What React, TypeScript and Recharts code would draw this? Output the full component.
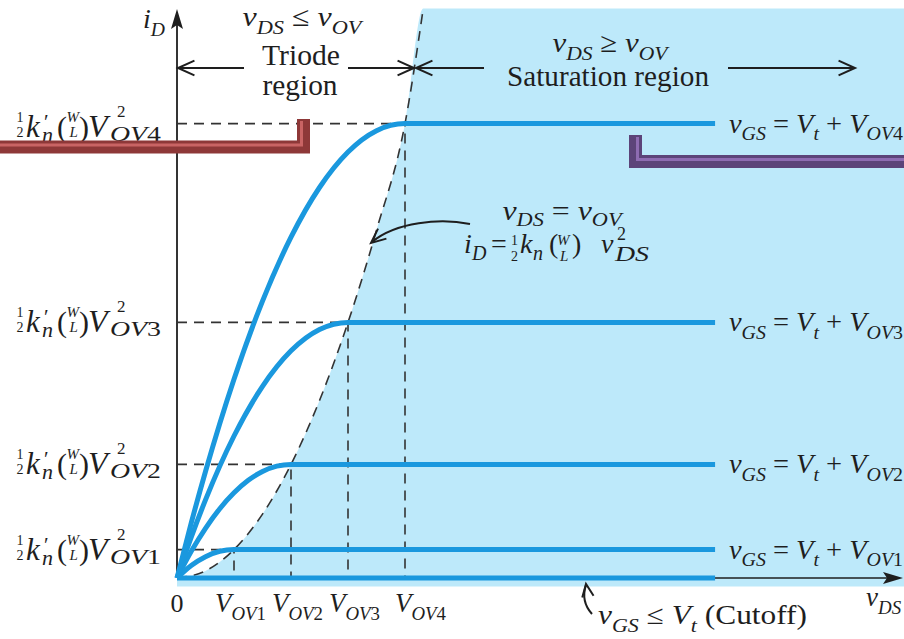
import React from 'react';
import { ComposedChart, Line, Area, XAxis, YAxis } from 'recharts';

const W = 904;
const H = 639;
// where the origin sits and how many px one unit takes
const X0 = 177;
const Y0 = 578;
const SX = 57;
const SY = 28.4;

const px = (x: number) => X0 + x * SX;
const py = (y: number) => Y0 - y * SY;

// overdrive voltages (units of V_OV1) and saturation currents
const vov = [1, 2, 3, 4];
const iSat = [1, 4, 9, 16];
const ovNames = ['1', '2', '3', '4'];
const vdsEnd = 9.44;
const axisXEnd = 12.6;
const axisYEnd = 19.9;

// curves: [vDS, iD]
const curveOV1 = [[0, 0], [0.25, 0.44], [0.5, 0.75], [0.75, 0.94], [1, 1], [vdsEnd, 1]];
const curveOV2 = [[0, 0], [0.25, 0.94], [0.5, 1.75], [0.75, 2.44], [1, 3], [1.25, 3.44], [1.5, 3.75], [1.75, 3.94], [2, 4], [vdsEnd, 4]];
const curveOV3 = [[0, 0], [0.25, 1.44], [0.5, 2.75], [1, 5], [1.5, 6.75], [2, 8], [2.5, 8.75], [3, 9], [vdsEnd, 9]];
const curveOV4 = [[0, 0], [0.25, 1.94], [0.5, 3.75], [1, 7], [1.5, 9.75], [2, 12], [2.5, 13.75], [3, 15], [3.5, 15.75], [4, 16], [vdsEnd, 16]];
const cutoff = [[0, 0], [vdsEnd, 0]];
// vDS = vOV boundary
const boundary = [[0, 0], [0.5, 0.25], [1, 1], [1.5, 2.25], [2, 4], [2.5, 6.25], [3, 9], [3.5, 12.25], [4, 16], [4.32, 20.05]];
const satFill = [...boundary, [12.8, 20.05]];

const pts = (a: number[][]) => a.map(([x, y]) => ({ x, y }));
const guides = vov.map((a, i) => [{ x: 0, y: iSat[i] }, { x: a, y: iSat[i] }, { x: a, y: 0 }]);
const curves = [curveOV1, curveOV2, curveOV3, curveOV4];

const FONT = '"Liberation Serif", "Times New Roman", "DejaVu Serif", serif';
const INK = '#1e1e1e';
const BLUE = '#1a98de';
const SHADE = '#bde9fa';

type Seg = [string, string?];

const T = ({ x, y, size, it, anchor, len, children }: { x: number; y: number; size: number; it?: boolean; anchor?: string; len?: number; children: React.ReactNode }) => (
  <text
    x={x}
    y={y}
    fontSize={size}
    fill={INK}
    textAnchor={(anchor || 'start') as any}
    textLength={len}
    lengthAdjust={len ? 'spacingAndGlyphs' : undefined}
    style={{ fontFamily: FONT, fontStyle: it ? 'italic' : 'normal' }}
  >
    {children}
  </text>
);

const MathText = ({ x, y, segs, size = 27, anchor = 'start', len, subDrop = 0.28 }: { x: number; y: number; segs: Seg[]; size?: number; anchor?: string; len?: number; subDrop?: number }) => {
  let cur = 0;
  return (
    <text
      x={x}
      y={y}
      fontSize={size}
      fill={INK}
      textAnchor={anchor as any}
      textLength={len}
      lengthAdjust={len ? 'spacingAndGlyphs' : undefined}
      style={{ fontFamily: FONT, whiteSpace: 'pre' }}
    >
      {segs.map(([t, f = ''], i) => {
        const target = f.includes('b') ? size * subDrop : f.includes('p') ? -size * 0.4 : 0;
        const dy = target - cur;
        cur = target;
        const small = f.includes('b') || f.includes('p');
        return (
          <tspan key={i} dy={dy} fontSize={small ? size * 0.7 : size} style={{ fontStyle: f.includes('i') ? 'italic' : 'normal' }}>
            {t}
          </tspan>
        );
      })}
    </text>
  );
};

const Head = ({ x, y, ang, len = 18, spread = 0.42 }: { x: number; y: number; ang: number; len?: number; spread?: number }) => {
  const a1 = ang + Math.PI - spread;
  const a2 = ang + Math.PI + spread;
  return (
    <path
      d={`M${x + len * Math.cos(a1)},${y + len * Math.sin(a1)} L${x},${y} L${x + len * Math.cos(a2)},${y + len * Math.sin(a2)}`}
      fill="none"
      stroke={INK}
      strokeWidth={2}
    />
  );
};

const it = { fontStyle: 'italic' };
const up = { fontStyle: 'normal' };

// ½ k'n (W/L) V²OVn as one text element
const LeftLabel = ({ y, n }: { y: number; n: string }) => (
  <text fill={INK} style={{ fontFamily: FONT }}>
    <tspan x={16.5} y={y - 5} fontSize={14} style={up}>1</tspan>
    <tspan x={16.5} y={y + 10} fontSize={14} style={up}>2</tspan>
    <tspan x={26} y={y + 10} fontSize={31} style={it}>k</tspan>
    <tspan x={44} y={y + 2} fontSize={21} style={up}>′</tspan>
    <tspan x={42} y={y + 15} fontSize={22} style={it}>n</tspan>
    <tspan x={57} y={y + 10} fontSize={30} style={up}>(</tspan>
    <tspan x={66.5} y={y - 5} fontSize={15} style={it}>W</tspan>
    <tspan x={69.5} y={y + 10} fontSize={15} style={it}>L</tspan>
    <tspan x={79} y={y + 10} fontSize={30} style={up}>)</tspan>
    <tspan x={88} y={y + 10} fontSize={32} style={it}>V</tspan>
    <tspan x={117} y={y - 10} fontSize={17} style={up}>2</tspan>
    <tspan x={110} y={y + 14} fontSize={22} textLength={51} lengthAdjust="spacingAndGlyphs">
      <tspan style={it}>OV</tspan>
      <tspan style={up}>{n}</tspan>
    </tspan>
  </text>
);

// iD = ½ kn (W/L) v²DS
const BoundaryFormula = () => (
  <text fill={INK} style={{ fontFamily: FONT }}>
    <tspan x={464} y={253} fontSize={28} style={it}>i</tspan>
    <tspan x={472} y={260} fontSize={20} style={it}>D</tspan>
    <tspan x={491} y={253} fontSize={28} style={up}>=</tspan>
    <tspan x={511} y={245} fontSize={14} style={up}>1</tspan>
    <tspan x={511} y={261} fontSize={14} style={up}>2</tspan>
    <tspan x={520} y={253} fontSize={28} style={it}>k</tspan>
    <tspan x={533} y={260} fontSize={20} style={it}>n</tspan>
    <tspan x={549} y={253} fontSize={28} style={up}>(</tspan>
    <tspan x={557} y={245} fontSize={15} style={it}>W</tspan>
    <tspan x={560} y={261} fontSize={15} style={it}>L</tspan>
    <tspan x={572} y={253} fontSize={28} style={up}>)</tspan>
    <tspan x={601} y={253} fontSize={28} style={it}>v</tspan>
    <tspan x={617} y={240} fontSize={18} style={up}>2</tspan>
    <tspan x={615} y={261} fontSize={21} textLength={34} lengthAdjust="spacingAndGlyphs" style={it}>DS</tspan>
  </text>
);

const Overlay = () => (
  <svg width={W} height={H} style={{ position: 'absolute', left: 0, top: 0, pointerEvents: 'none' }}>
    {/* axis arrow heads */}
    <path d={`M${px(0)},9 L${px(0) + 6},29 L${px(0)},25 L${px(0) - 6},29 Z`} fill={INK} />
    <path d={`M903,${py(0)} L883,${py(0) - 6} L887,${py(0)} L883,${py(0) + 6} Z`} fill={INK} />

    {/* region arrows */}
    <g stroke={INK} strokeWidth={2}>
      <line x1={178} y1={68} x2={244} y2={68} />
      <line x1={348} y1={68} x2={414} y2={68} />
      <line x1={416} y1={68} x2={484} y2={68} />
      <line x1={728} y1={68} x2={855} y2={68} />
    </g>
    <Head x={178} y={68} ang={Math.PI} />
    <Head x={414} y={68} ang={0} />
    <Head x={416} y={68} ang={Math.PI} />
    <Head x={855} y={68} ang={0} />

    <MathText x={302} y={26} anchor="middle" size={28} len={119} segs={[['v', 'i'], ['DS', 'ib'], [' ≤ '], ['v', 'i'], ['OV', 'ib']]} />
    <T x={301} y={65} size={29} anchor="middle" len={78}>Triode</T>
    <T x={300} y={95} size={29} anchor="middle" len={75}>region</T>
    <MathText x={610} y={52} anchor="middle" size={28} len={115} segs={[['v', 'i'], ['DS', 'ib'], [' ≥ '], ['v', 'i'], ['OV', 'ib']]} />
    <T x={608} y={86} size={29} anchor="middle" len={202}>Saturation region</T>

    <MathText x={143} y={28} size={28} segs={[['i', 'i'], ['D', 'ib']]} />

    {/* boundary note */}
    <path d="M470,224 C440,218 396,222 372,242" fill="none" stroke={INK} strokeWidth={2} />
    <Head x={371} y={243} ang={Math.atan2(20, -24)} len={16} />
    <MathText x={562} y={220} anchor="middle" size={28} len={119} subDrop={0.22} segs={[['v', 'i'], ['DS', 'ib'], [' = '], ['v', 'i'], ['OV', 'ib']]} />
    <BoundaryFormula />

    {/* level labels */}
    {iSat.map((s, i) => (
      <LeftLabel key={'l' + i} y={py(s) + (i === 3 ? 3 : 0)} n={ovNames[i]} />
    ))}
    {iSat.map((s, i) => (
      <MathText
        key={'r' + i}
        x={729}
        y={py(s) + 9}
        size={28}
        len={174}
        segs={[['v', 'i'], ['GS', 'ib'], [' = '], ['V', 'i'], ['t', 'ib'], [' + '], ['V', 'i'], ['OV', 'ib'], [ovNames[i], 'b']]}
      />
    ))}

    {/* x axis labels */}
    <T x={px(0)} y={612} size={26} anchor="middle">0</T>
    {vov.map((a, i) => (
      <MathText key={'x' + i} x={px(a) - (i === 3 ? 10 : 19)} y={612} size={27} len={51} segs={[['V', 'i'], ['OV', 'ib'], [ovNames[i], 'b']]} />
    ))}
    <MathText x={866} y={606} size={27} segs={[['v', 'i'], ['DS', 'ib']]} />

    {/* cutoff note */}
    <path d="M592,614 C583,604 583,594 586,585" fill="none" stroke={INK} strokeWidth={2} />
    <Head x={586} y={584} ang={-Math.PI / 2 - 0.15} len={14} />
    <MathText x={598} y={624} size={27} len={209} segs={[['v', 'i'], ['GS', 'ib'], [' ≤ '], ['V', 'i'], ['t', 'ib'], [' (Cutoff)']]} />

    {/* slide brackets */}
    <path d="M0,147 H303.5 V119" fill="none" stroke="#8e3838" strokeWidth={13} strokeLinejoin="miter" />
    <path d="M0,145 H301.5 V121" fill="none" stroke="#c96464" strokeWidth={3} strokeLinejoin="miter" />
    <path d="M635.5,135 V161.5 H904" fill="none" stroke="#5c4479" strokeWidth={13} strokeLinejoin="miter" />
    <path d="M637.5,137 V159.5 H904" fill="none" stroke="#8e6cb2" strokeWidth={3} strokeLinejoin="miter" />
  </svg>
);

export default function App() {
  return (
    <div style={{ position: 'absolute', left: 0, top: 0, width: W, height: H, background: '#fff', fontFamily: FONT }}>
      <ComposedChart width={W} height={H} margin={{ top: 0, right: 0, bottom: 0, left: 0 }}>
        <XAxis type="number" dataKey="x" hide domain={[-X0 / SX, (W - X0) / SX]} allowDataOverflow />
        <YAxis type="number" hide domain={[-(H - Y0) / SY, Y0 / SY]} allowDataOverflow />
        <Area
          data={pts(satFill)}
          dataKey="y"
          type="monotone"
          baseValue={-0.3}
          fill={SHADE}
          fillOpacity={1}
          stroke="none"
          dot={false}
          activeDot={false}
          isAnimationActive={false}
        />
        <Line data={pts([[0, 0], [axisXEnd, 0]])} dataKey="y" type="linear" stroke={INK} strokeWidth={1.6} dot={false} activeDot={false} isAnimationActive={false} />
        <Line data={pts([[0, 0], [0, axisYEnd]])} dataKey="y" type="linear" stroke={INK} strokeWidth={1.8} dot={false} activeDot={false} isAnimationActive={false} />
        {guides.map((g, i) => (
          <Line key={'g' + i} data={g} dataKey="y" type="linear" stroke="#333" strokeWidth={1.6} strokeDasharray="10 7" dot={false} activeDot={false} isAnimationActive={false} />
        ))}
        <Line data={pts(boundary)} dataKey="y" type="monotone" stroke="#333" strokeWidth={1.6} strokeDasharray="10 7" dot={false} activeDot={false} isAnimationActive={false} />
        {curves.map((c, i) => (
          <Line key={'c' + i} data={pts(c)} dataKey="y" type="monotone" stroke={BLUE} strokeWidth={5} dot={false} activeDot={false} isAnimationActive={false} />
        ))}
        <Line data={pts(cutoff)} dataKey="y" type="linear" stroke={BLUE} strokeWidth={5} dot={false} activeDot={false} isAnimationActive={false} />
      </ComposedChart>
      <Overlay />
    </div>
  );
}
